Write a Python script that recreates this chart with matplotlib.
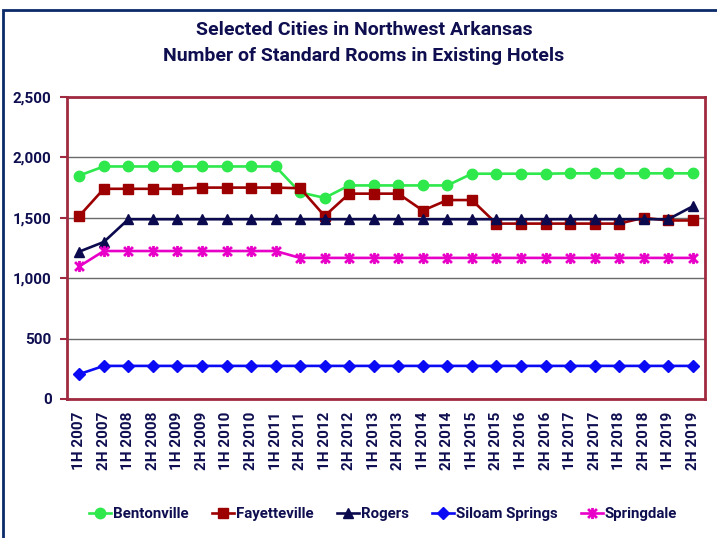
import matplotlib
matplotlib.use("Agg")
import matplotlib.pyplot as plt
from matplotlib.path import Path
from matplotlib.patches import Rectangle
from matplotlib.ticker import FuncFormatter, MultipleLocator

periods = ["1H 2007", "2H 2007", "1H 2008", "2H 2008", "1H 2009", "2H 2009",
           "1H 2010", "2H 2010", "1H 2011", "2H 2011", "1H 2012", "2H 2012",
           "1H 2013", "2H 2013", "1H 2014", "2H 2014", "1H 2015", "2H 2015",
           "1H 2016", "2H 2016", "1H 2017", "2H 2017", "1H 2018", "2H 2018",
           "1H 2019", "2H 2019"]

bentonville = [1850, 1925, 1925, 1925, 1925, 1925, 1925, 1925, 1925, 1710,
               1665, 1768, 1768, 1768, 1768, 1768, 1865, 1865, 1865, 1865,
               1868, 1868, 1868, 1868, 1868, 1868]
fayetteville = [1515, 1740, 1740, 1740, 1740, 1750, 1750, 1750, 1750, 1745,
                1515, 1700, 1700, 1700, 1560, 1647, 1647, 1452, 1452, 1452,
                1452, 1452, 1452, 1500, 1478, 1478]
rogers = [1220, 1300, 1488, 1488, 1488, 1488, 1488, 1488, 1488, 1488,
          1488, 1488, 1488, 1488, 1488, 1488, 1488, 1488, 1488, 1488,
          1488, 1488, 1488, 1488, 1488, 1595]
siloam_springs = [206, 274, 274, 274, 274, 274, 274, 274, 274, 274,
                  274, 274, 274, 274, 274, 274, 274, 274, 274, 274,
                  274, 274, 274, 274, 274, 274]
springdale = [1098, 1225, 1225, 1225, 1225, 1225, 1225, 1225, 1225, 1168,
              1168, 1168, 1168, 1168, 1168, 1168, 1168, 1168, 1168, 1168,
              1168, 1168, 1168, 1168, 1168, 1168]

title_lines = ["Selected Cities in Northwest Arkansas",
               "Number of Standard Rooms in Existing Hotels"]

TEXT = "#0e0e50"
FRAME = "#a02a40"
FONT = ["Roboto", "DejaVu Sans"]

plt.rcParams["font.family"] = FONT

fig = plt.figure(figsize=(7.17, 5.38), dpi=100)
W, H = 717, 538
ax = fig.add_axes([67 / W, 1 - 399 / H, (705 - 67) / W, (399 - 97) / H])

# outer chart frame (left and top visible)
fig.add_artist(Rectangle((3 / W, -0.05), 1.2, (1 - 10 / H) + 0.05,
                         transform=fig.transFigure, fill=False,
                         edgecolor="#0a2a6a", linewidth=2.0, zorder=0))

star = Path([(0, -1), (0, 1), (-0.8, -0.8), (0.8, 0.8), (-0.8, 0.8), (0.8, -0.8)],
            [Path.MOVETO, Path.LINETO, Path.MOVETO, Path.LINETO, Path.MOVETO, Path.LINETO])

x = list(range(len(periods)))
series = [
    ("Bentonville", bentonville, "#2ee84c", "o", 7.5, {}),
    ("Fayetteville", fayetteville, "#9c0000", "s", 7.2, {}),
    ("Rogers", rogers, "#0c0a4e", "^", 7.5, {}),
    ("Siloam Springs", siloam_springs, "#0a0af5", "D", 6.2, {}),
    ("Springdale", springdale, "#e800c8", star, 8.0, {"markeredgewidth": 2.0}),
]
for name, vals, col, mk, ms, extra in series:
    ax.plot(x, vals, color=col, linewidth=1.9, marker=mk, markersize=ms,
            markerfacecolor=col, markeredgecolor=col, label=name,
            clip_on=False, zorder=3, **extra)

ax.set_xlim(-0.5, len(periods) - 0.5)
ax.set_ylim(0, 2500)
ax.yaxis.set_major_locator(MultipleLocator(500))
ax.yaxis.set_major_formatter(FuncFormatter(lambda v, p: f"{int(v):,}"))
ax.grid(axis="y", color="#6a6a6a", linewidth=1.0, zorder=1)
ax.set_axisbelow(True)

for s in ax.spines.values():
    s.set_color(FRAME)
    s.set_linewidth(2.0)

ax.set_xticks(x)
ax.set_xticklabels(periods, rotation=90, fontsize=11, fontweight="bold", color=TEXT)
ax.tick_params(axis="x", length=0, pad=9)
ax.tick_params(axis="y", length=5, width=1.5, color=FRAME, labelsize=11,
               labelcolor=TEXT, pad=6)
for lbl in ax.get_yticklabels():
    lbl.set_fontweight("bold")

fig.text(364 / W, 1 - 30 / H, title_lines[0], ha="center", va="center",
         fontsize=14, fontweight="bold", color=TEXT)
fig.text(364 / W, 1 - 56 / H, title_lines[1], ha="center", va="center",
         fontsize=14, fontweight="bold", color=TEXT)

leg = fig.legend(loc="center", bbox_to_anchor=(383 / W, 1 - 514 / H), ncol=5,
                 frameon=False, handlelength=1.5, handletextpad=0.1,
                 columnspacing=1.55, prop={"weight": "bold", "size": 10.8})
for t in leg.get_texts():
    t.set_color(TEXT)

fig.savefig("out.png", dpi=100)
